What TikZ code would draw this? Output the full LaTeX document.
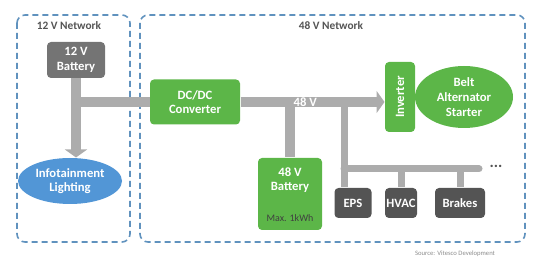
\documentclass[tikz,border=0pt]{standalone}
\usepackage{fontspec}
\setmainfont{Carlito}
\usepackage{graphicx}
\usetikzlibrary{arrows.meta,shapes.geometric}

\definecolor{netblue}{RGB}{96,146,190}
\definecolor{bargray}{RGB}{172,172,172}
\definecolor{loadgray}{RGB}{84,84,84}
\definecolor{batgray}{RGB}{116,116,116}
\definecolor{boxgreen}{RGB}{92,182,72}
\definecolor{infoblue}{RGB}{82,150,214}

\tikzset{every picture/.style={line width=0.75pt}}
\tikzset{
  netbox/.style={draw=netblue,line width=1.2pt,dash pattern={on 4.5pt off 3pt},rounded corners=6pt},
  netlabel/.style={inner sep=0.75pt,text=loadgray,font=\fontsize{8.5}{10}\selectfont\bfseries},
  unit/.style={rectangle,rounded corners=3pt,inner sep=1pt,align=center,text=white,font=\fontsize{9.5}{11}\selectfont\bfseries},
  greenunit/.style={unit,fill=boxgreen},
  loadunit/.style={unit,fill=loadgray,minimum height=22.5pt},
  bus/.style={draw=bargray,line width=7.5pt},
  tap/.style={draw=bargray,line width=5.25pt},
  fatarrow/.style={-{Triangle[width=16.5pt,length=6pt]}}
}

\begin{document}
\begin{tikzpicture}[x=0.75pt,y=0.75pt,yscale=-1,xscale=1]
\useasboundingbox (0,0) rectangle (541,266); %set diagram size to 541 x 266

%Shape: Network frames
\draw [netbox] (17,15) rectangle (130,242) ;
\draw [netbox] (140,15) rectangle (525,242) ;

% Text Node
\node (net12) [netlabel] at (69,26) {12 V Network};
% Text Node
\node (net48) [netlabel] at (331,26) {48 V Network};

%Shape: 12 V side
\node (bat12) [unit,fill=batgray,minimum width=43.5pt,minimum height=27pt] at (76,60) {12 V\\Battery};
\node (info) [ellipse,fill=infoblue,text=white,align=center,inner sep=0pt,minimum width=78pt,minimum height=34.5pt,font=\fontsize{9.5}{11}\selectfont\bfseries] at (70,181) {Infotainment\\Lighting};

%Shape: 48 V side
\node (dcdc) [greenunit,minimum width=67.5pt,minimum height=33.75pt] at (195,102) {DC/DC\\Converter};
\node (inv) [greenunit,minimum width=22.5pt,minimum height=52.5pt] at (400,97) {\rotatebox{90}{Inverter}};
\node (bas) [ellipse,fill=boxgreen,text=white,align=center,inner sep=0pt,minimum width=73.5pt,minimum height=46.5pt,font=\fontsize{9.5}{11}\selectfont\bfseries] at (464,97) {Belt\\Alternator\\Starter};
\node (bat48) [greenunit,minimum width=48pt,minimum height=54pt] at (290,194) {};
\node (bat48txt) [inner sep=0pt,align=center,text=white,font=\fontsize{9.5}{11}\selectfont\bfseries] at (290,180) {48 V\\Battery};
\node (bat48cap) [inner sep=0pt,text=black!75,font=\fontsize{7.5}{8}\selectfont] at (290,218) {Max. 1kWh};

%Shape: loads
\node (eps) [loadunit,minimum width=27.75pt] at (353,203) {EPS};
\node (hvac) [loadunit,minimum width=24pt] at (401,203) {HVAC};
\node (brakes) [loadunit,minimum width=37.5pt] at (460,203) {Brakes};
\node (more) [inner sep=0pt,text=loadgray,font=\fontsize{12}{12}\selectfont\bfseries] at (496,166) {...};

%Straight Lines: 12 V feed
\draw [bus,fatarrow] (bat12.south) -- (bat12.south |- info.north) ;
\draw [bus] (bat12.south |- dcdc.west) -- (dcdc.west) ;

%Straight Lines: 48 V bus
\coordinate (tapload) at (344,102);
\coordinate (loadrail) at (344,169);
\coordinate (railend) at (479,169);
\draw [bus] (bat48.north |- dcdc.east) -- (bat48.north) ;
\draw [tap] (tapload) -- (tapload |- eps.north) ;
\draw [tap,line cap=round] (loadrail) -- (railend) ;
\draw [tap] (hvac.north |- loadrail) -- (hvac.north) ;
\draw [tap] (brakes.north |- loadrail) -- (brakes.north) ;
\draw [bus,fatarrow] (dcdc.east) -- (dcdc.east -| inv.west) node [pos=0.45,inner sep=0pt,text=white,font=\fontsize{9.5}{11}\selectfont\bfseries] (buslabel) {48 V} ;

% Text Node
\node (source) [inner sep=0pt,text=black!45,font=\fontsize{5}{6}\selectfont] at (455,254) {Source: Vitesco Development};

\end{tikzpicture}
\end{document}
